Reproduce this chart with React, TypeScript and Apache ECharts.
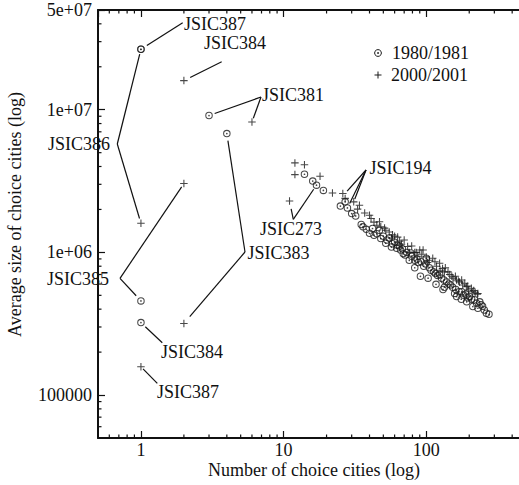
import React, { useEffect, useRef } from 'react';
import * as echarts from 'echarts';

// ---------- data ----------
const seriesNames = ['1980/1981', '2000/2001'];

// 1980/1981 : [number of choice cities, average size of choice cities]
const circles1980: [number, number][] = [
  [1, 2.65e7], [1, 2.65e7], [3, 9.1e6], [4, 6.8e6], [1, 4.57e5], [1, 3.22e5],
  [14, 3.53e6], [16, 3.16e6], [17, 2.96e6], [19, 2.72e6],
  [25, 2.11e6], [27, 2.26e6], [28, 2.05e6], [30, 1.87e6], [32, 1.8e6], [35, 1.57e6],
  [36, 1.51e6], [42, 1.47e6], [40, 1.36e6], [43, 1.32e6], [52, 1.16e6], [57, 1.09e6],
  [62, 1.07e6], [69, 9.8e5], [91, 6.8e5], [103, 6.6e5], [117, 5.97e5], [131, 5.5e5],
  [158, 5.16e5], [176, 4.7e5], [212, 4.17e5], [230, 4.06e5], [264, 3.74e5], [275, 3.68e5],
  [47, 1.43e6], [50, 1.3e6], [55, 1.26e6], [60, 1.18e6], [65, 1.11e6], [66, 1.04e6],
  [73, 1.0e6], [79, 9.4e5], [83, 8.8e5], [88, 8.5e5], [96, 8.0e5], [105, 7.8e5],
  [113, 7.3e5], [120, 6.9e5], [128, 6.6e5], [139, 6.2e5], [148, 5.9e5], [161, 5.5e5],
  [177, 5.3e5], [189, 5.1e5], [201, 4.9e5], [218, 4.65e5], [237, 4.5e5], [248, 4.2e5],
  [100, 9.1e5], [76, 8.8e5], [83, 7.8e5], [134, 5.7e5], [192, 4.5e5], [163, 4.9e5],
  [38, 1.45e6], [45, 1.35e6], [48, 1.25e6], [53, 1.22e6], [58, 1.15e6], [63, 1.12e6],
  [68, 1.06e6], [71, 9.6e5], [78, 9.9e5], [86, 9.0e5], [92, 8.6e5], [99, 8.3e5],
  [108, 7.5e5], [116, 7.1e5], [124, 7.0e5], [133, 6.4e5], [144, 6.0e5], [153, 5.7e5],
  [170, 5.3e5], [183, 5.0e5], [196, 4.8e5], [208, 4.7e5], [225, 4.4e5], [242, 4.3e5],
  [255, 3.95e5],
];

// 2000/2001
const crosses2000: [number, number][] = [
  [2, 1.6e7], [6, 8.2e6], [1, 1.6e6], [2, 3.04e6], [2, 3.17e5], [1, 1.58e5],
  [12, 4.24e6], [14, 4.12e6], [12, 3.51e6], [18, 3.42e6], [11, 2.29e6],
  [22, 2.61e6], [26, 2.59e6], [27, 2.39e6], [31, 2.26e6], [33, 2.01e6], [37, 1.89e6],
  [40, 1.82e6], [41, 1.73e6], [47, 1.64e6], [48, 1.51e6], [52, 1.43e6], [55, 1.39e6],
  [60, 1.3e6], [63, 1.28e6], [70, 1.22e6], [67, 1.14e6], [79, 1.11e6], [90, 1.04e6],
  [95, 1.04e6], [100, 9.3e5], [105, 8.8e5], [111, 9.1e5], [124, 8.4e5], [125, 7.5e5],
  [142, 7.3e5], [154, 6.6e5], [163, 6.4e5], [186, 6.07e5], [191, 5.74e5], [207, 5.6e5],
  [228, 5.1e5], [230, 5.15e5], [57, 1.26e6], [76, 1.0e6], [87, 9.4e5], [118, 8.0e5],
  [134, 7.3e5], [151, 6.8e5], [171, 6.2e5], [177, 6.4e5], [198, 5.45e5], [215, 5.4e5],
  [34, 2.14e6], [43, 1.63e6], [51, 1.48e6], [83, 1.0e6], [102, 8.5e5], [136, 7.8e5],
  [45, 1.55e6], [58, 1.33e6], [65, 1.2e6], [74, 1.1e6], [85, 1.0e6], [93, 9.7e5],
  [115, 8.6e5], [130, 7.7e5], [146, 7.0e5], [160, 6.8e5], [168, 6.3e5], [180, 5.9e5],
  [195, 5.8e5], [210, 5.3e5], [220, 5.25e5],
];

const xMinorTicks = [0.6, 0.7, 0.8, 0.9, 2, 3, 4, 5, 6, 7, 8, 9, 20, 30, 40, 50, 60, 70, 80, 90, 200, 300, 400];
const yMinorTicks = [
  6e4, 7e4, 8e4, 9e4, 2e5, 3e5, 4e5, 5e5, 6e5, 7e5, 8e5, 9e5,
  2e6, 3e6, 4e6, 5e6, 6e6, 7e6, 8e6, 9e6, 2e7, 3e7, 4e7,
];
const yTickLabels: [number, string][] = [[1e5, '100000'], [1e6, '1e+06'], [1e7, '1e+07'], [5e7, '5e+07']];

const xTitle = 'Number of choice cities (log)';
const yTitle = 'Average size of choice cities (log)';

// ---------- annotation layout (label top-left pixel, apex pixel; targets are data values + gap) ----------
type Ann = { text: string; lx: number; ly: number; apex: [number, number]; targets: [number, number, number][] };
const annotations: Ann[] = [
  { text: 'JSIC387', lx: 184, ly: 15, apex: [182.7, 22.7], targets: [[1, 2.65e7, 7]] },
  { text: 'JSIC384', lx: 204, ly: 34, apex: [221.7, 61.7], targets: [[2, 1.6e7, 7]] },
  { text: 'JSIC381', lx: 262, ly: 86, apex: [261, 97], targets: [[3, 9.1e6, 6], [6, 8.2e6, 4]] },
  { text: 'JSIC386', lx: 48, ly: 135, apex: [117.3, 144], targets: [[1, 2.65e7, 5], [1, 1.6e6, 5]] },
  { text: 'JSIC385', lx: 47, ly: 270, apex: [120, 278.3], targets: [[2, 3.04e6, 4], [1, 4.57e5, 7]] },
  { text: 'JSIC383', lx: 247.5, ly: 244, apex: [245, 252], targets: [[4, 6.8e6, 7], [2, 3.17e5, 9]] },
  { text: 'JSIC384', lx: 161, ly: 343, apex: [162.3, 342.7], targets: [[1, 3.22e5, 6]] },
  { text: 'JSIC387', lx: 157, ly: 383, apex: [157.3, 383.3], targets: [[1, 1.58e5, 3]] },
  { text: 'JSIC273', lx: 260, ly: 219.5, apex: [293.3, 219.3], targets: [[11, 2.29e6, 8], [17, 2.96e6, 5]] },
  { text: 'JSIC194', lx: 369.5, ly: 158.5, apex: [366, 170], targets: [[27, 2.59e6, 3], [28, 2.05e6, 5], [31, 2.26e6, 3]] },
];

const FONT = 'Liberation Serif';
const FONT_CSS = `18px ${FONT}`;
const INK = '#111';
const MARK = '#1a1a1a';

const CIRCLE_PATH =
  'path://M4,0 A4,4 0 1,1 4,8 A4,4 0 1,1 4,0 Z M4,1.1 A2.9,2.9 0 1,0 4,6.9 A2.9,2.9 0 1,0 4,1.1 Z M4,3.1 A0.9,0.9 0 1,1 4,4.9 A0.9,0.9 0 1,1 4,3.1 Z';
const CROSS_PATH = 'path://M3,0 L4,0 L4,3 L7,3 L7,4 L4,4 L4,7 L3,7 L3,4 L0,4 L0,3 L3,3 Z';

const MINOR = 3.5;

function isPow10(v: number) {
  const l = Math.log10(v);
  return Math.abs(l - Math.round(l)) < 1e-6;
}

export default function App() {
  const ref = useRef<HTMLDivElement>(null);

  useEffect(() => {
    if (!ref.current) return;
    const chart = echarts.init(ref.current, undefined, { renderer: 'svg' });

    const annLineData: number[][] = [];
    annotations.forEach((a) => {
      a.targets.forEach((t) => annLineData.push([t[0], t[1], a.apex[0], a.apex[1], t[2]]));
    });

    const common = {
      type: 'log',
      min: 0.5,
      max: 500,
      splitLine: { show: false },
      axisTick: { inside: true, length: 7, lineStyle: { color: INK, width: 1.2 } },
      axisLine: { onZero: false, lineStyle: { color: INK, width: 2 } },
    };

    const label = (text: string, x: number, y: number, extra: any = {}) => ({
      type: 'text',
      x,
      y,
      silent: true,
      ...extra,
      style: { text, font: FONT_CSS, fill: INK },
    });

    const option: any = {
      animation: false,
      grid: { left: 98, top: 10, right: -7, bottom: 47, containLabel: false, outerBoundsMode: 'none' },
      xAxis: [
        {
          ...common,
          axisLabel: {
            fontFamily: FONT,
            fontSize: 18,
            color: INK,
            margin: 3,
            showMinLabel: false,
            showMaxLabel: false,
            formatter: (v: number) => (isPow10(v) ? String(Math.round(v)) : ''),
          },
        },
        { ...common, position: 'top', axisLabel: { show: false } },
      ],
      yAxis: [
        {
          type: 'log',
          min: 5e4,
          max: 5e7,
          splitLine: { show: false },
          axisTick: { inside: true, length: 7, lineStyle: { color: INK, width: 1.2 } },
          axisLine: { onZero: false, lineStyle: { color: INK, width: 2 } },
          axisLabel: {
            fontFamily: FONT,
            fontSize: 18,
            color: INK,
            margin: 6,
            showMinLabel: false,
            showMaxLabel: true,
            formatter: (v: number) => {
              for (const [tv, s] of yTickLabels) if (Math.abs(v - tv) / tv < 1e-6) return s;
              return '';
            },
          },
        },
      ],
      graphic: [
        ...annotations.map((a) => label(a.text, a.lx, a.ly)),
        label(xTitle, 208, 461),
        label(yTitle, 6, 337, { rotation: Math.PI / 2 }),
        // legend
        { type: 'circle', silent: true, shape: { cx: 378, cy: 53, r: 3.4 }, style: { fill: 'none', stroke: MARK, lineWidth: 1 } },
        { type: 'circle', silent: true, shape: { cx: 378, cy: 53, r: 0.9 }, style: { fill: MARK } },
        label(seriesNames[0], 392, 44),
        { type: 'rect', silent: true, shape: { x: 374.5, y: 74.5, width: 7, height: 1 }, style: { fill: MARK } },
        { type: 'rect', silent: true, shape: { x: 377.5, y: 71.5, width: 1, height: 7 }, style: { fill: MARK } },
        label(seriesNames[1], 391, 66),
        // the plot frame continues past the picture's right edge: keep that edge open
        { type: 'rect', silent: true, z: 100, shape: { x: 514, y: 12, width: 8, height: 424 }, style: { fill: '#fff' } },
      ],
      series: [
        {
          type: 'custom',
          silent: true,
          data: xMinorTicks.map((v) => [v, 1e6]),
          renderItem: (params: any, api: any) => {
            const p = api.coord([api.value(0), api.value(1)]);
            const cs = params.coordSys;
            const st = { stroke: INK, lineWidth: 1.2 };
            return {
              type: 'group',
              children: [
                { type: 'line', shape: { x1: p[0], y1: cs.y + cs.height, x2: p[0], y2: cs.y + cs.height - MINOR }, style: st },
                { type: 'line', shape: { x1: p[0], y1: cs.y, x2: p[0], y2: cs.y + MINOR }, style: st },
              ],
            };
          },
        },
        {
          type: 'custom',
          silent: true,
          data: yMinorTicks.map((v) => [1, v]),
          renderItem: (params: any, api: any) => {
            const p = api.coord([api.value(0), api.value(1)]);
            const cs = params.coordSys;
            return { type: 'line', shape: { x1: cs.x, y1: p[1], x2: cs.x + MINOR, y2: p[1] }, style: { stroke: INK, lineWidth: 1.2 } };
          },
        },
        {
          type: 'custom',
          silent: true,
          clip: false,
          data: annLineData,
          renderItem: (params: any, api: any) => {
            const p = api.coord([api.value(0), api.value(1)]);
            const ax = api.value(2);
            const ay = api.value(3);
            const gap = api.value(4);
            const dx = p[0] - ax;
            const dy = p[1] - ay;
            const len = Math.sqrt(dx * dx + dy * dy) || 1;
            return {
              type: 'line',
              shape: { x1: ax, y1: ay, x2: p[0] - (dx / len) * gap, y2: p[1] - (dy / len) * gap },
              style: { stroke: INK, lineWidth: 1.2 },
            };
          },
        },
        {
          type: 'scatter',
          name: seriesNames[0],
          symbol: CIRCLE_PATH,
          symbolSize: 7.5,
          itemStyle: { color: MARK },
          data: circles1980,
        },
        {
          type: 'scatter',
          name: seriesNames[1],
          symbol: CROSS_PATH,
          symbolSize: 7.5,
          itemStyle: { color: MARK },
          data: crosses2000,
        },
      ],
    };

    chart.setOption(option);
    return () => chart.dispose();
  }, []);

  return <div ref={ref} style={{ position: 'absolute', left: 0, top: 0, width: 519, height: 485 }} />;
}
